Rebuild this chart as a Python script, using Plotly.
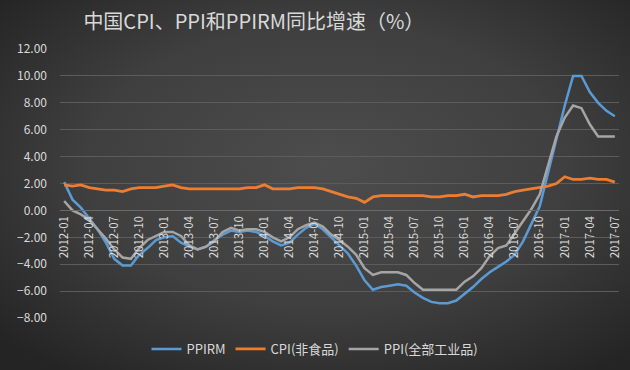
import base64
import plotly.graph_objects as go

# ---- data ----
months = [f"{y}-{m:02d}" for y in range(2012, 2018) for m in range(1, 13)][:67]
tick_labels = months[::3]

ppirm = [2.1, 0.8, 0.2, -0.6, -1.4, -2.4, -3.6, -4.1, -4.1, -3.3, -2.8, -2.2,
         -2.0, -1.9, -2.4, -2.7, -2.9, -2.7, -2.2, -1.8, -1.5, -1.6, -1.5, -1.6,
         -1.9, -2.3, -2.6, -2.4, -1.8, -1.3, -1.0, -1.4, -2.0, -2.6, -3.2, -4.1,
         -5.2, -5.9, -5.7, -5.6, -5.5, -5.6, -6.1, -6.5, -6.8, -6.9, -6.9, -6.7,
         -6.2, -5.7, -5.1, -4.6, -4.2, -3.8, -3.3, -2.3, -1.0, 0.3, 2.8, 5.4,
         7.8, 10.0, 10.0, 8.8, 8.0, 7.4, 7.0]
cpi_nonfood = [1.9, 1.8, 1.9, 1.7, 1.6, 1.5, 1.5, 1.4, 1.6, 1.7, 1.7, 1.7,
               1.8, 1.9, 1.7, 1.6, 1.6, 1.6, 1.6, 1.6, 1.6, 1.6, 1.7, 1.7,
               1.9, 1.6, 1.6, 1.6, 1.7, 1.7, 1.7, 1.6, 1.4, 1.2, 1.0, 0.9,
               0.6, 1.0, 1.1, 1.1, 1.1, 1.1, 1.1, 1.1, 1.0, 1.0, 1.1, 1.1,
               1.2, 1.0, 1.1, 1.1, 1.1, 1.2, 1.4, 1.5, 1.6, 1.7, 1.8, 2.0,
               2.5, 2.3, 2.3, 2.4, 2.3, 2.3, 2.1]
ppi_all = [0.7, 0.0, -0.3, -0.7, -1.4, -2.1, -2.9, -3.5, -3.6, -2.8, -2.2, -1.9,
           -1.6, -1.6, -1.9, -2.6, -2.9, -2.7, -2.3, -1.6, -1.3, -1.5, -1.4, -1.4,
           -1.6, -2.0, -2.3, -2.0, -1.4, -1.1, -0.9, -1.2, -1.8, -2.2, -2.7, -3.3,
           -4.3, -4.8, -4.6, -4.6, -4.6, -4.8, -5.4, -5.9, -5.9, -5.9, -5.9, -5.9,
           -5.3, -4.9, -4.3, -3.4, -2.8, -2.6, -1.7, -0.8, 0.1, 1.2, 3.3, 5.5,
           6.9, 7.8, 7.6, 6.4, 5.5, 5.5, 5.5]
y_ticks = [-8, -6, -4, -2, 0, 2, 4, 6, 8, 10, 12]

# ---- layout constants ----
W, H = 630, 370
L, R, T, B = 60, 11, 49, 52
pw, ph = W - L - R, H - T - B
font_fam = "Noto Sans CJK SC, Noto Sans, sans-serif"
txt = "#d9d9d9"

svg = f'''<svg xmlns="http://www.w3.org/2000/svg" width="{W}" height="{H}">
<defs><radialGradient id="g" cx="52%" cy="45%" r="70%">
<stop offset="0%" stop-color="#4d4d4d"/><stop offset="55%" stop-color="#3f3f3f"/>
<stop offset="100%" stop-color="#242424"/></radialGradient></defs>
<rect width="{W}" height="{H}" fill="url(#g)"/></svg>'''
bg_src = "data:image/svg+xml;base64," + base64.b64encode(svg.encode()).decode()

fig = go.Figure()
fig.add_trace(go.Scatter(x=months, y=ppirm, name="PPIRM", mode="lines",
                         line=dict(color="#5b9bd5", width=2.5)))
fig.add_trace(go.Scatter(x=months, y=cpi_nonfood, name="CPI(非食品)", mode="lines",
                         line=dict(color="#ed7d31", width=2.8)))
fig.add_trace(go.Scatter(x=months, y=ppi_all, name="PPI(全部工业品)", mode="lines",
                         line=dict(color="#a5a5a5", width=2.5)))

fig.update_layout(
    width=W, height=H,
    margin=dict(l=L, r=R, t=T, b=B, autoexpand=False),
    paper_bgcolor="#333333",
    plot_bgcolor="rgba(0,0,0,0)",
    font=dict(family=font_fam, color=txt, size=12),
    title=dict(text="中国CPI、PPI和PPIRM同比增速（%）", x=0.403, xref="container",
               xanchor="center", y=1 - 22 / H, yref="container", yanchor="middle",
               font=dict(size=20, color=txt, family=font_fam)),
    showlegend=True,
    legend=dict(orientation="h", x=0.5, xref="container", xanchor="center",
                y=1 - 349 / H, yref="container", yanchor="middle",
                font=dict(size=13, color=txt), itemwidth=30,
                bgcolor="rgba(0,0,0,0)", tracegroupgap=0),
    xaxis=dict(type="category", categoryorder="array", categoryarray=months,
               range=[-0.5, len(months) - 0.5],
               tickmode="array", tickvals=tick_labels, ticktext=tick_labels,
               tickangle=-90, tickfont=dict(size=11.5, color=txt),
               anchor="free", position=0.4, showgrid=False, automargin=False,
               showline=True, linecolor="#6a6a6a", linewidth=1, ticks="", zeroline=False),
    yaxis=dict(range=[-8, 12], tickvals=y_ticks, tickformat=".2f", automargin=False,
               tickfont=dict(size=12, color=txt), showgrid=True,
               gridcolor="#5c5c5c", gridwidth=1, zeroline=False, ticks="",
               showline=False, ticklabelstandoff=12),
    images=[dict(source=bg_src, xref="paper", yref="paper",
                 x=-L / pw, y=1 + T / ph, sizex=W / pw, sizey=H / ph,
                 xanchor="left", yanchor="top", sizing="stretch", layer="below")],
)

fig.write_html("out.html",
               config={"displayModeBar": False},
               post_script="document.body.style.margin='0';"
                           "document.body.style.overflow='hidden';")
